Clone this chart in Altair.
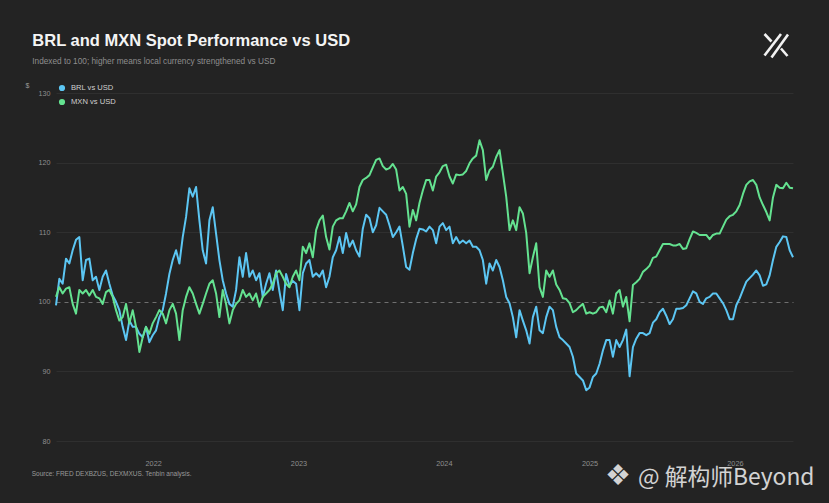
import altair as alt
import pandas as pd

# ---------------- data ----------------
start_date = "2021-05-02"
end_date = "2026-05-27"

brl_vs_usd = [
    99.5, 103.3, 102.6, 106.2, 105.5, 107.4, 108.9, 109.3, 103.1, 106,
    106.2, 103.1, 103.6, 101.7, 103.6, 104.5, 102.6, 100.9, 100, 98.8,
    96.4, 94.5, 97.3, 96.4, 96.4, 95.4, 94.9, 96.4, 94.2, 95.2,
    95.9, 97.8, 98.8, 101.2, 104, 106, 107.4, 105.5, 109.3, 112.2,
    116.3, 115.1, 116.5, 111.7, 107.4, 105.5, 111.7, 113.6, 109.8, 106,
    103.1, 101.2, 99.7, 99.3, 101.7,
    106.4, 103.6, 107, 103.6, 104.5, 103.1, 104.1, 100.7, 102.6, 104.1,
    101.7, 104.5, 101.5, 98.8, 104, 102.3, 103, 102.6, 98.8, 104.1,
    105.5, 106, 103.6, 104.1, 103.6, 104.5, 102.1, 103.6, 106.4, 107.4,
    109.3, 107, 109.9, 107.9, 108.8, 107.4, 106.5, 110.5, 112.5, 112,
    110, 111, 113.5, 113, 112.5, 111, 109.3, 110, 110.8, 108,
    105, 104.6, 107, 109, 110.5, 110.4, 110.1,
    110.8, 110.3, 108.4, 110.8, 111.3, 110.3, 110.8, 108.4, 109.3, 108.4,
    108.8, 108.4, 108.8, 107.9, 107.9, 107.4, 106, 102.6, 105.5, 104.5,
    106, 105, 103.1, 100.7, 99.8, 97.8, 94.9, 98.8, 97.3, 95.9,
    94, 97.8, 99.3, 95.9, 95.5, 97.8, 99.3, 98.8, 96.4, 94.9,
    94.5, 94, 93.5, 92.1, 89.7, 89.2, 88.7, 87.3, 87.7, 89.2,
    89.7, 91.1, 93, 94.5,
    94.5, 92.1, 94.5, 93.5, 94.5, 96, 89.3, 93.5, 94.7, 95.5,
    95.5, 95.2, 95.5, 97, 97.5, 98.5, 99, 98, 96.8, 97.5,
    99, 99, 99.1, 99.5, 100.5, 101.5, 101.2, 100, 99.7, 100.5,
    100.7, 101.2, 101.2, 100.5, 99.8, 98.8, 97.5, 97.5, 99.5, 100.5,
    101.7, 102.9, 103.4, 103.9, 104.5, 103.8, 102.3, 102.5, 103.8, 106,
    107.9, 108.6, 109.4, 109.3, 107.4, 106.4,
]

mxn_vs_usd = [
    100.7, 102.1, 101.2, 101.9, 102.1, 99.7, 98.3, 101.7, 101.2, 101.7,
    100.9, 101.7, 100.7, 100.5, 99.7, 101.4, 101.7, 100.7, 98.8, 97.3,
    97.8, 99.7, 96.9, 98.8, 96.4, 92.8, 94.9, 96.4, 95.4, 96.9,
    97.8, 98.8, 98.3, 96.9, 98.8, 99.7, 98.3, 94.5, 98.8, 100.7,
    102.1, 101.2, 99.7, 98.3, 99.7, 101.2, 102.6, 103.1, 101.2, 97.8,
    101.7, 99.7, 96.9, 98.8, 99.7,
    100.2, 101.7, 100.7, 101.2, 100.2, 101.2, 99.3, 100.7, 101.2, 101.7,
    102.6, 104.1, 104.5, 103.6, 102.6, 102.1, 103.6, 104.5, 103.1, 107.9,
    107, 108.4, 106.4, 110.3, 111.7, 112.4, 109.3, 107.5, 110.8, 111.7,
    112, 112, 113, 114.2, 113, 114, 116.5, 117.5, 117.8, 118.2,
    119.3, 120.4, 120.6, 119.5, 119, 119.2, 119.8, 119, 116, 116.5,
    115.5, 110.8, 113.2, 111.7, 114.2, 116, 117.5,
    117.5, 116, 118, 118.6, 119.5, 119.7, 118, 117, 118.3, 118.2,
    118.3, 118.8, 119.9, 120.6, 121, 123.2, 121.8, 117.5, 118.9, 119.4,
    120.8, 121.8, 118.5, 115.1, 110.3, 111.7, 110.3, 113.6, 112.7, 109.9,
    104.1, 106.4, 108.4, 102.1, 100.7, 104.5, 103.6, 104.5, 102.5, 101.7,
    100.5, 100.4, 99.8, 98.5, 98.8, 99.3, 99.7, 98.3, 98.5, 98.3,
    98.5, 99.2, 99.3, 98.5,
    100.2, 98.3, 101.2, 101.7, 99.3, 100.7, 97.2, 102.4, 102.8, 103.3,
    104.3, 104.7, 105.2, 106.3, 106.5, 107.4, 108.3, 108.3, 108.3, 108.1,
    108.1, 108.3, 107.6, 107.7, 109, 110.1, 109.9, 109.6, 109.6, 109.6,
    109, 109.6, 109.8, 109.8, 110.8, 111.8, 112.3, 112.5, 113, 113.9,
    115.5, 116.8, 117.3, 117.5, 116.8, 115, 113.9, 112.9, 111.7, 115,
    116.8, 116.4, 116.3, 117.1, 116.4, 116.3,
]

series_names = ["BRL vs USD", "MXN vs USD"]
series_colors = ["#5cc6f3", "#64e290"]
year_ticks = [2022, 2023, 2024, 2025, 2026]
y_ticks = [80, 90, 100, 110, 120, 130]
y_domain = [80, 130]

title_text = "BRL and MXN Spot Performance vs USD"
subtitle_text = "Indexed to 100; higher means local currency strengthened vs USD"
source_text = "Source: FRED DEXBZUS, DEXMXUS. Tenbin analysis."
watermark_text = "@ 解构师Beyond"

# ---------------- build table ----------------
n = len(brl_vs_usd)
dates = pd.date_range(start_date, end_date, periods=n)
df = pd.DataFrame({
    "date": list(dates) + list(dates),
    "value": brl_vs_usd + mxn_vs_usd,
    "series": [series_names[0]] * n + [series_names[1]] * len(mxn_vs_usd),
})

BG = "#232323"
FONT = "Liberation Sans"

W, H = 737, 348

lines = alt.Chart(df).mark_line(strokeWidth=2, strokeJoin="round").encode(
    x=alt.X(
        "date:T",
        scale=alt.Scale(nice=False),
        axis=alt.Axis(
            values=[alt.DateTime(year=y, month=1, date=1) for y in year_ticks],
            format="%Y",
            grid=False,
            domain=False,
            ticks=False,
            labelColor="#8f8f8f",
            labelFontSize=7.3,
            labelPadding=18,
            labelFont=FONT,
            title=None,
        ),
    ),
    y=alt.Y(
        "value:Q",
        scale=alt.Scale(domain=y_domain, nice=False, zero=False),
        axis=alt.Axis(
            values=y_ticks,
            grid=True,
            gridColor={"condition": {"test": "datum.value === 100", "value": "#6f6f6f"}, "value": "#2f2f2f"},
            gridDash={"condition": {"test": "datum.value === 100", "value": [4, 4]}, "value": []},
            gridWidth=1,
            domain=False,
            ticks=False,
            labelColor="#8f8f8f",
            labelFontSize=7.2,
            labelPadding=6,
            labelFont=FONT,
            title="$",
            titleAngle=0,
            titleX=-31,
            titleY=-8,
            titleAlign="left",
            titleBaseline="middle",
            titleColor="#9a9a9a",
            titleFontSize=7,
            titleFontWeight="normal",
            titleFont=FONT,
        ),
    ),
    color=alt.Color(
        "series:N",
        scale=alt.Scale(domain=series_names, range=series_colors),
        legend=None,
    ),
)

one = pd.DataFrame({"k": [0]})


def label(text, x, y, **kw):
    return alt.Chart(one).mark_text(text=text, **kw).encode(x=alt.value(x), y=alt.value(y))


title_l = label(title_text, -23.7, -47, align="left", baseline="alphabetic",
                fontSize=16.5, fontWeight="bold", color="#f4f4f4", font=FONT)
subtitle_l = label(subtitle_text, -23.7, -28.7, align="left", baseline="alphabetic",
                   fontSize=8.25, color="#8e8e8e", font=FONT)
source_l = label(source_text, -24.3, 381, align="left", baseline="middle",
                 fontSize=6.5, color="#9a9a9a", font=FONT)
wm_l = label(watermark_text, 582, 392, align="left", baseline="alphabetic",
             fontSize=22.8, color="#e2e2e2", font="Noto Sans CJK SC", opacity=0.92)
diamond_l = label("\u2756", 562, 383, align="center", baseline="middle",
                  fontSize=29, color="#e2e2e2", font="DejaVu Sans", opacity=0.92)

# legend (drawn by hand: filled dots + labels)
legend_items = []
for i, (name, col) in enumerate(zip(series_names, series_colors)):
    yy = -5 + 14 * i
    legend_items.append(
        alt.Chart(one).mark_circle(size=38, opacity=1, color=col).encode(
            x=alt.value(6), y=alt.value(yy)
        )
    )
    legend_items.append(
        label(name, 15, yy, align="left", baseline="middle",
              fontSize=7.6, color="#d0d0d0", font=FONT)
    )


def seg(x1, y1, x2, y2):
    return alt.Chart(one).mark_rule(color="#f2f2f2", strokeWidth=2.6).encode(
        x=alt.value(x1), y=alt.value(y1), x2=alt.value(x2), y2=alt.value(y2)
    )


logo = [
    seg(708.5, -59, 715.5, -51.5),
    seg(708.5, -37.5, 725, -59),
    seg(715.5, -35.5, 732, -58.5),
    seg(725, -44.5, 731.5, -37),
]

chart = alt.layer(
    lines, title_l, subtitle_l, source_l, diamond_l, wm_l, *legend_items, *logo
).properties(
    width=W,
    height=H,
    autosize=alt.AutoSizeParams(type="none"),
    padding={"left": 48, "top": 85, "right": 28, "bottom": 54},
    background=BG,
).configure(font=FONT).configure_view(strokeWidth=0, stroke="transparent")


def _save():
    opts = {"renderer": "svg", "actions": False}
    try:
        from altair.utils import html as _h
        base = _h.TEMPLATES["standard"]

        class _T:
            def render(self, **kw):
                out = base.render(**kw)
                return out.replace(
                    "<head>",
                    "<head>\n<style>html,body{background:%s;}</style>" % BG,
                    1,
                )

        chart.save("out.html", embed_options=opts, template=_T())
    except Exception:
        chart.save("out.html", embed_options=opts)


_save()
